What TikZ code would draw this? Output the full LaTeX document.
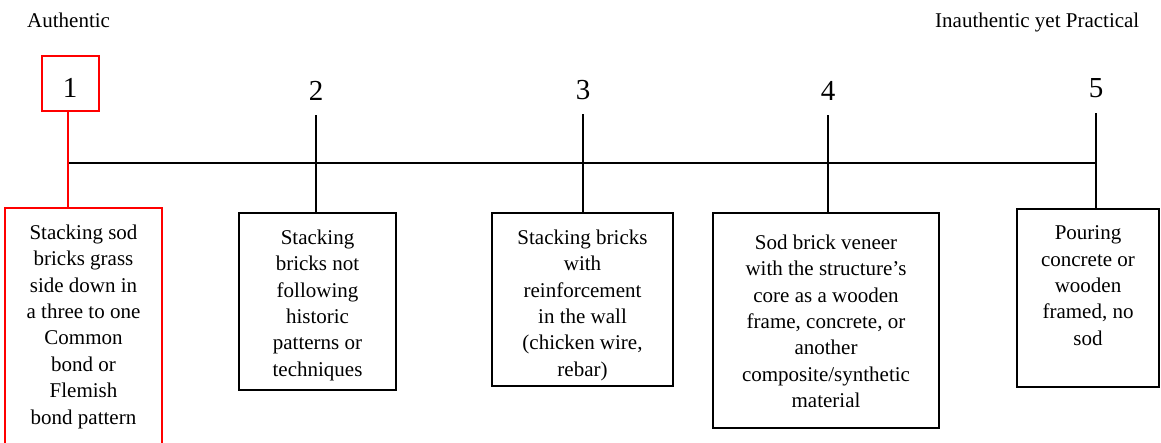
\documentclass[tikz,border=0pt]{standalone}
\usepackage{fontspec}
\setmainfont{Liberation Serif}
\definecolor{pure red}{RGB}{255,0,0}
\begin{document}
\begin{tikzpicture}[x=1pt,y=-1pt,
  conn/.style={line width=2pt},
  redconn/.style={line width=2pt,draw=pure red},
  stagebox/.style={draw,line width=2pt,rectangle,inner sep=0pt},
  redbox/.style={stagebox,draw=pure red},
  bodytext/.style={anchor=north,align=center,inner sep=0pt,font=\fontsize{21}{26.4}\selectfont},
  numtext/.style={anchor=base,inner sep=0pt,font=\fontsize{29}{34}\selectfont},
  headtext/.style={anchor=base,inner sep=0pt,font=\fontsize{21}{25}\selectfont}]
\useasboundingbox (0,0) rectangle (1161,442);
\clip (0,0) rectangle (1161,442);

% header labels
\node[headtext,anchor=base west] (auth) at (27,27) {Authentic};
\node[headtext,anchor=base west] (inauth) at (935,27) {Inauthentic yet Practical};

% number box 1
\node[redbox,minimum width=57pt,minimum height=55pt] (n1box) at (70.3,83.5) {};
\node[numtext] (n1) at (70,97) {1};
\node[numtext] (n2) at (316,100) {2};
\node[numtext] (n3) at (583,99) {3};
\node[numtext] (n4) at (828,100) {4};
\node[numtext] (n5) at (1096,97) {5};

% junctions on timeline
\coordinate (j1) at (68,163);
\coordinate (j2) at (316,163);
\coordinate (j3) at (583,163);
\coordinate (j4) at (828,163);
\coordinate (j5) at (1096,163);
\coordinate (t2) at (316,115);
\coordinate (t3) at (583,114);
\coordinate (t4) at (828,115);
\coordinate (t5) at (1096,113);

% boxes
\node[redbox,minimum width=157pt,minimum height=260pt] (b1) at (83.5,338) {};
\node[stagebox,minimum width=157pt,minimum height=177pt] (b2) at (317.5,301.5) {};
\node[stagebox,minimum width=181pt,minimum height=173pt] (b3) at (582.5,299.5) {};
\node[stagebox,minimum width=226pt,minimum height=215pt] (b4) at (826,320.5) {};
\node[stagebox,minimum width=142pt,minimum height=178pt] (b5) at (1088,298) {};

% texts
\node[bodytext] (x1) at (83.5,224.5) {Stacking sod\\bricks grass\\side down in\\a three to one\\Common\\bond or\\Flemish\\bond pattern};
\node[bodytext] (x2) at (317.5,229.5) {Stacking\\bricks not\\following\\historic\\patterns or\\techniques};
\node[bodytext] (x3) at (582.5,229.5) {Stacking bricks\\with\\reinforcement\\in the wall\\(chicken wire,\\rebar)};
\node[bodytext] (x4) at (826,234.5) {Sod brick veneer\\with the structure’s\\core as a wooden\\frame, concrete, or\\another\\composite/synthetic\\material};
\node[bodytext] (x5) at (1088,225.5) {Pouring\\concrete or\\wooden\\framed, no\\sod};

% connectors
\draw[conn] (j1) -- (j5);
\draw[conn] (t2) -- (t2 |- b2.north);
\draw[conn] (t3) -- (t3 |- b3.north);
\draw[conn] (t4) -- (t4 |- b4.north);
\draw[conn] (t5) -- (t5 |- b5.north);
\draw[redconn] (n1box.south -| j1) -- (j1 |- b1.north);
\end{tikzpicture}
\end{document}
